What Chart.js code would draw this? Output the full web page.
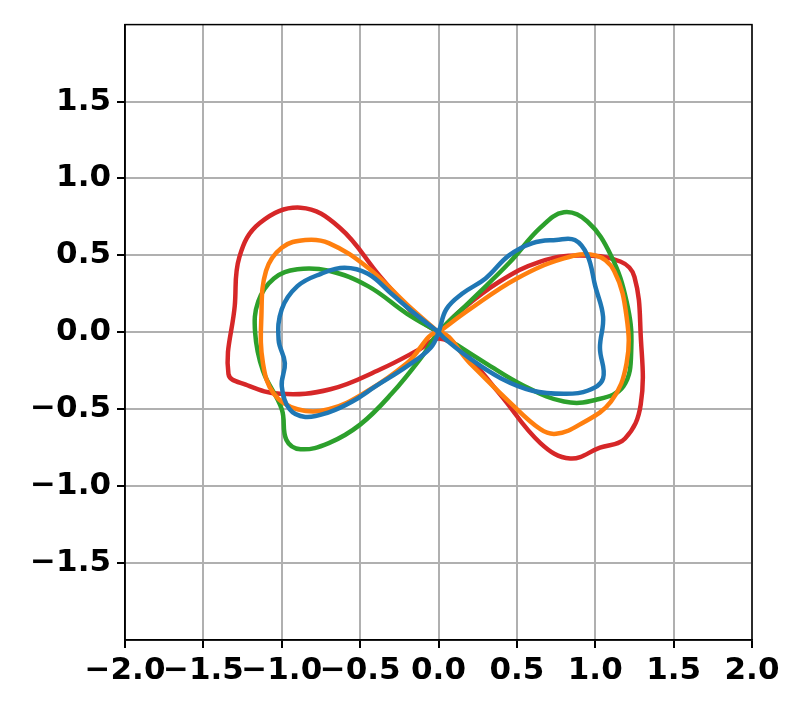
<!DOCTYPE html>
<html>
<head>
<meta charset="utf-8">
<script src="https://cdn.jsdelivr.net/npm/chart.js@4/dist/chart.umd.min.js"></script>
<style>
  body { margin: 0; background: #fff; }
  #box { width: 800px; height: 705px; }
</style>
</head>
<body>
<div id="box"><canvas id="grafico"></canvas></div>
<script>
// curvas (x, y)
var blueX = [0, -0.15, -0.3, -0.45, -0.6, -0.75, -0.9, -1.0, -1.02, -0.98, -1.0, -0.95, -0.85, -0.7, -0.55, -0.4, -0.2, -0.05, 0, 0.05, 0.15, 0.3, 0.45, 0.6, 0.75, 0.87, 0.95, 1.0, 1.05, 1.03, 1.05, 0.95, 0.8, 0.6, 0.4, 0.2, 0.05, 0];
var blueY = [0, 0.12, 0.25, 0.38, 0.42, 0.38, 0.3, 0.15, -0.05, -0.2, -0.35, -0.5, -0.55, -0.52, -0.45, -0.35, -0.22, -0.1, 0, 0.15, 0.25, 0.35, 0.5, 0.58, 0.6, 0.6, 0.5, 0.3, 0.1, -0.1, -0.3, -0.38, -0.4, -0.38, -0.3, -0.17, -0.05, 0];
var orangeX = [0, -0.2, -0.45, -0.7, -0.85, -1.0, -1.1, -1.13, -1.12, -1.05, -0.9, -0.7, -0.45, -0.2, 0, 0.2, 0.45, 0.65, 0.75, 0.9, 1.1, 1.2, 1.2, 1.12, 1.0, 0.8, 0.5, 0.2, 0];
var orangeY = [0, 0.18, 0.42, 0.58, 0.6, 0.55, 0.4, 0.1, -0.2, -0.4, -0.5, -0.5, -0.38, -0.2, 0, -0.2, -0.45, -0.63, -0.66, -0.6, -0.45, -0.2, 0.1, 0.4, 0.5, 0.48, 0.35, 0.15, 0];
var greenX = [0, -0.2, -0.45, -0.7, -0.9, -1.05, -1.15, -1.17, -1.12, -1.0, -0.97, -0.88, -0.7, -0.5, -0.3, -0.1, 0, 0.2, 0.45, 0.65, 0.8, 0.95, 1.1, 1.2, 1.23, 1.18, 1.0, 0.8, 0.55, 0.3, 0.1, 0];
var greenY = [0, 0.12, 0.3, 0.4, 0.41, 0.35, 0.2, 0, -0.25, -0.5, -0.7, -0.76, -0.72, -0.6, -0.4, -0.15, 0, 0.2, 0.45, 0.68, 0.78, 0.72, 0.5, 0.2, -0.1, -0.35, -0.44, -0.45, -0.35, -0.2, -0.07, 0];
var redX = [0, -0.12, -0.37, -0.63, -0.88, -1.14, -1.27, -1.3, -1.34, -1.23, -1.01, -0.69, -0.37, -0.12, 0, 0.14, 0.39, 0.65, 0.84, 1.03, 1.19, 1.29, 1.29, 1.25, 1.16, 0.9, 0.65, 0.39, 0.14, 0];
var redY = [0, 0.08, 0.36, 0.68, 0.81, 0.71, 0.49, 0.17, -0.27, -0.34, -0.4, -0.37, -0.24, -0.11, -0.04, -0.11, -0.4, -0.72, -0.82, -0.75, -0.69, -0.47, -0.02, 0.36, 0.46, 0.5, 0.46, 0.33, 0.14, 0];
var xTicks = [-2, -1.5, -1, -0.5, 0, 0.5, 1, 1.5, 2];
var yTicks = [-1.5, -1, -0.5, 0, 0.5, 1, 1.5];

function pontos(xs, ys) {
  return xs.map(function (x, i) { return { x: x, y: ys[i] }; });
}
function serie(xs, ys, cor) {
  return { data: pontos(xs, ys), borderColor: cor, borderWidth: 4.5, showLine: true, pointRadius: 0, tension: 0.4, fill: false };
}
function rotulo(v) {
  return (v < 0 ? '\u2212' : '') + Math.abs(v).toFixed(1);
}

var fonte = { family: 'DejaVu Sans', size: 31, weight: 'bold' };

new Chart(document.getElementById('grafico'), {
  type: 'scatter',
  data: {
    datasets: [
      serie(blueX, blueY, '#1f77b4'),
      serie(orangeX, orangeY, '#ff7f0e'),
      serie(greenX, greenY, '#2ca02c'),
      serie(redX, redY, '#d62728')
    ]
  },
  options: {
    responsive: true,
    maintainAspectRatio: false,
    animation: false,
    layout: { padding: { left: 0, right: 48, top: 8, bottom: 0 } },
    plugins: { legend: { display: false }, tooltip: { enabled: false } },
    scales: {
      x: {
        min: -2, max: 2,
        afterBuildTicks: function (s) { s.ticks = xTicks.map(function (v) { return { value: v }; }); },
        afterFit: function (s) { s.height = 65; },
        ticks: { color: '#000', font: fonte, autoSkip: false, maxRotation: 0, padding: 4, callback: rotulo },
        grid: { color: '#b0b0b0', lineWidth: 2, tickLength: 8, tickColor: '#000' },
        border: { color: '#000', width: 1.5 }
      },
      y: {
        min: -2, max: 2,
        afterBuildTicks: function (s) { s.ticks = yTicks.map(function (v) { return { value: v }; }); },
        afterFit: function (s) { s.width = 125; },
        ticks: { color: '#000', font: fonte, autoSkip: false, padding: 6, callback: rotulo },
        grid: { color: '#b0b0b0', lineWidth: 2, tickLength: 8, tickColor: '#000' },
        border: { color: '#000', width: 1.5 }
      }
    }
  },
  plugins: [{
    id: 'caixa',
    afterDraw: function (c) {
      var a = c.chartArea, ctx = c.ctx;
      ctx.save();
      ctx.strokeStyle = '#000';
      ctx.lineWidth = 1.5;
      ctx.strokeRect(a.left, a.top, a.right - a.left, a.bottom - a.top);
      ctx.restore();
    }
  }]
});
</script>
</body>
</html>
